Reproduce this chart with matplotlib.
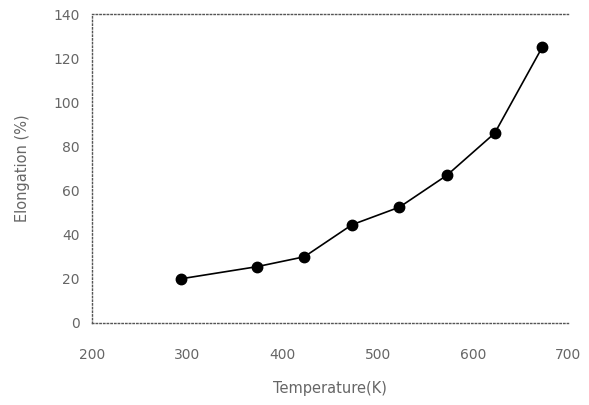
import matplotlib
matplotlib.use("Agg")
import matplotlib.pyplot as plt

# elongation vs temperature
temperature = [293, 373, 423, 473, 523, 573, 623, 673]
elongation = [20, 25.5, 30, 44.5, 52.5, 67, 86, 125]

xticks = [200, 300, 400, 500, 600, 700]
yticks = [0, 20, 40, 60, 80, 100, 120, 140]

text_color = "#666666"

fig = plt.figure(figsize=(5.89, 4.05), dpi=100)
ax = fig.add_axes([92 / 589, 1 - 323 / 405, (568 - 92) / 589, (323 - 14) / 405])

ax.plot(temperature, elongation, color="black", linewidth=1.2,
        marker="o", markersize=7.5, markerfacecolor="black", markeredgecolor="black")

ax.set_xlim(200, 697)
ax.set_ylim(0, 140)
ax.set_xticks(xticks)
ax.set_yticks(yticks)
ax.tick_params(length=0, labelsize=10, labelcolor=text_color)
ax.tick_params(axis="x", pad=18)
ax.tick_params(axis="y", pad=9)

ax.spines["right"].set_visible(False)
for side in ["left", "top", "bottom"]:
    ax.spines[side].set_linestyle(":")
    ax.spines[side].set_color("#555555")
    ax.spines[side].set_linewidth(1.0)

ax.set_xlabel("Temperature(K)", fontsize=10.5, color=text_color, labelpad=14)
ax.set_ylabel("Elongation (%)", fontsize=10.5, color=text_color, labelpad=17)

fig.savefig("out.png", dpi=100)
